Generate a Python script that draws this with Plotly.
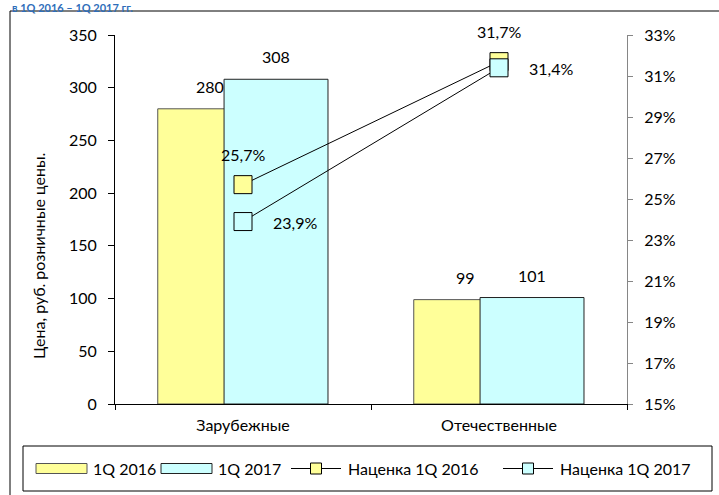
import plotly.graph_objects as go

# ---- data ----
categories = ["Зарубежные", "Отечественные"]
price_1q2016 = [280, 99]
price_1q2017 = [308, 101]
markup_1q2016 = [25.7, 31.7]
markup_1q2017 = [23.9, 31.4]
left_ticks = [0, 50, 100, 150, 200, 250, 300, 350]
right_ticks = [15, 17, 19, 21, 23, 25, 27, 29, 31, 33]
right_tick_labels = [f"{v}%" for v in right_ticks]
series_names = ["1Q 2016", "1Q 2017", "Наценка 1Q 2016", "Наценка 1Q 2017"]
y_title = "Цена, руб. розничные цены."
top_title = "в 1Q 2016 – 1Q 2017 гг."

# ---- style ----
YELLOW = "#FFFF99"
CYAN = "#CCFFFF"
FONT = "Lato"
FS = 16
W, H = 719, 495
L, R, T, B = 115, 627, 35, 404
BAR_W = 0.406
OFF16, OFF17 = -0.333, -0.074


def px_x(px):
    return (px - L) / (R - L)


def px_y(py):
    return (B - py) / (B - T)


def fmt_pct(v):
    return f"{v:.1f}%".replace(".", ",")


fig = go.Figure()
fig.add_bar(x=categories, y=price_1q2016, name=series_names[0], width=BAR_W, offset=OFF16,
            marker=dict(color=YELLOW, line=dict(color="#555555", width=1)))
fig.add_bar(x=categories, y=price_1q2017, name=series_names[1], width=BAR_W, offset=OFF17,
            marker=dict(color=CYAN, line=dict(color="#222222", width=1)))
fig.add_scatter(x=categories, y=markup_1q2016, name=series_names[2], yaxis="y2",
                mode="lines+markers", line=dict(color="black", width=1),
                marker=dict(symbol="square", size=18, color=YELLOW, line=dict(color="black", width=1)))
fig.add_scatter(x=categories, y=markup_1q2017, name=series_names[3], yaxis="y2",
                mode="lines+markers", line=dict(color="black", width=1),
                marker=dict(symbol="square", size=18, color=CYAN, line=dict(color="black", width=1)))

ann = []
for i in range(len(categories)):
    ann.append(dict(x=i + OFF16 + BAR_W / 2, y=price_1q2016[i], xref="x", yref="y",
                    text=str(price_1q2016[i]), showarrow=False, yanchor="bottom", yshift=11))
    ann.append(dict(x=i + OFF17 + BAR_W / 2, y=price_1q2017[i], xref="x", yref="y",
                    text=str(price_1q2017[i]), showarrow=False, yanchor="bottom", yshift=11))
    ann.append(dict(x=i, y=markup_1q2016[i], xref="x", yref="y2",
                    text=fmt_pct(markup_1q2016[i]), showarrow=False, yanchor="middle", yshift=30))
    ann.append(dict(x=i, y=markup_1q2017[i], xref="x", yref="y2",
                    text=fmt_pct(markup_1q2017[i]), showarrow=False, xanchor="left", xshift=28, yshift=-1))
ann.append(dict(x=px_x(38), y=px_y(256), xref="paper", yref="paper", text=y_title,
                textangle=-90, showarrow=False, xanchor="center", yanchor="middle"))
ann.append(dict(x=px_x(10), y=px_y(-1), xref="paper", yref="paper", text=f"<b>{top_title}</b>",
                showarrow=False, xanchor="left", yanchor="top", font=dict(color="#2F6EBA", size=11)))

shapes = [
    # outer chart border
    dict(type="rect", xref="paper", yref="paper", x0=px_x(10), x1=px_x(740),
         y0=px_y(520), y1=px_y(11), line=dict(color="black", width=1), layer="below"),
    # legend box
    dict(type="rect", xref="paper", yref="paper", x0=px_x(23), x1=px_x(712),
         y0=px_y(491), y1=px_y(446), line=dict(color="black", width=1), fillcolor="white"),
]

# legend drawn to match the reference's long bar swatches
LEG_Y = 468.5
leg_items = [
    ("bar", YELLOW, "#555555", 36, 87, 91),
    ("bar", CYAN, "#222222", 161, 212, 216),
    ("line", YELLOW, "black", 291, 341, 346),
    ("line", CYAN, "black", 503, 553, 558),
]
for (kind, fill, edge, x0, x1, tx), name in zip(leg_items, series_names):
    if kind == "bar":
        shapes.append(dict(type="rect", xref="paper", yref="paper", x0=px_x(x0), x1=px_x(x1),
                           y0=px_y(LEG_Y + 5), y1=px_y(LEG_Y - 5),
                           line=dict(color=edge, width=1), fillcolor=fill))
    else:
        xm = (x0 + x1) / 2
        shapes.append(dict(type="line", xref="paper", yref="paper", x0=px_x(x0), x1=px_x(x1),
                           y0=px_y(LEG_Y), y1=px_y(LEG_Y), line=dict(color=edge, width=1)))
        shapes.append(dict(type="rect", xref="paper", yref="paper", x0=px_x(xm - 5.5), x1=px_x(xm + 5.5),
                           y0=px_y(LEG_Y + 5.5), y1=px_y(LEG_Y - 5.5),
                           line=dict(color=edge, width=1), fillcolor=fill))
    ann.append(dict(x=px_x(tx), y=px_y(LEG_Y), xref="paper", yref="paper", text=name,
                    showarrow=False, xanchor="left", yanchor="middle"))

fig.update_layout(
    width=W, height=H,
    margin=dict(l=L, r=W - R, t=T, b=H - B, autoexpand=False),
    paper_bgcolor="white", plot_bgcolor="white",
    font=dict(family=FONT, size=FS, color="black"),
    barmode="overlay",
    showlegend=False,
    xaxis=dict(type="category", tickson="boundaries", showline=True, linecolor="black",
               ticks="outside", ticklen=5, tickcolor="black", showgrid=False,
               ticklabelstandoff=7, range=[-0.5, 1.5]),
    yaxis=dict(range=[0, 350], tickvals=left_ticks, showline=True, linecolor="black",
               ticks="outside", ticklen=6, tickcolor="black", showgrid=False, zeroline=False,
               ticklabelstandoff=8),
    yaxis2=dict(range=[15, 33], tickvals=right_ticks, ticktext=right_tick_labels,
                overlaying="y", side="right", showline=True, linecolor="#868686",
                ticks="outside", ticklen=5, tickcolor="#868686", showgrid=False, zeroline=False,
                ticklabelstandoff=8),
    annotations=ann,
    shapes=shapes,
)

fig.write_html("out.html", config={"displayModeBar": False},
               post_script="document.body.style.margin='0';document.body.style.overflow='hidden';")
